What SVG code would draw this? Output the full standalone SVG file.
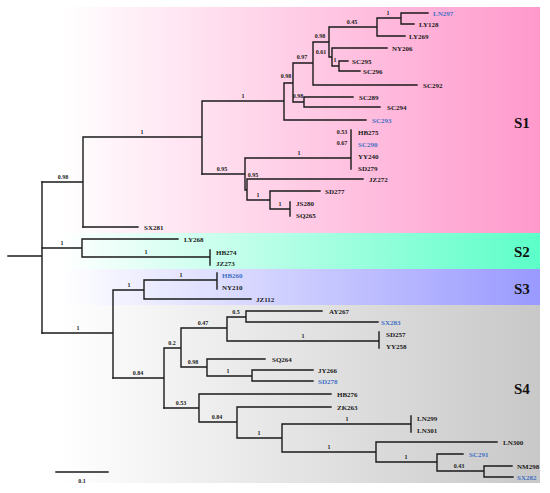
<svg xmlns="http://www.w3.org/2000/svg" width="550" height="493" viewBox="0 0 550 493">
<defs>
<linearGradient id="gPink" x1="0" y1="0" x2="1" y2="0"><stop offset="0" stop-color="#ffffff"/><stop offset="1" stop-color="#ff99cc"/></linearGradient>
<linearGradient id="gGreen" x1="0" y1="0" x2="1" y2="0"><stop offset="0" stop-color="#ffffff"/><stop offset="1" stop-color="#5cffc8"/></linearGradient>
<linearGradient id="gBlue" x1="0" y1="0" x2="1" y2="0"><stop offset="0" stop-color="#ffffff"/><stop offset="1" stop-color="#9999ff"/></linearGradient>
<linearGradient id="gGrey" x1="0" y1="0" x2="1" y2="0"><stop offset="0" stop-color="#ffffff"/><stop offset="1" stop-color="#c8c8c8"/></linearGradient>
</defs>
<style>
.tree{fill:none;stroke:#1a1a1a;stroke-width:1.4;stroke-linecap:square}
.lf{font-family:"Liberation Serif","Times New Roman",serif;font-weight:bold;font-size:7px;fill:#1a1a1a}
.bl{fill:#3f6fc4}
.sv{font-family:"Liberation Serif","Times New Roman",serif;font-weight:bold;font-size:6px;fill:#1a1a1a;text-anchor:middle}
.cl{font-family:"Liberation Serif","Times New Roman",serif;font-weight:bold;font-size:15px;fill:#111}
</style>
<rect width="550" height="493" fill="#ffffff"/>
<g id="clade-S1"><rect x="60" y="7" width="480" height="226" fill="url(#gPink)"/><text class="cl" x="514" y="128">S1</text></g>
<g id="clade-S2"><rect x="60" y="233" width="480" height="36" fill="url(#gGreen)"/><text class="cl" x="514" y="257">S2</text></g>
<g id="clade-S3"><rect x="60" y="269" width="480" height="36" fill="url(#gBlue)"/><text class="cl" x="514" y="294">S3</text></g>
<g id="clade-S4"><rect x="60" y="305" width="480" height="178" fill="url(#gGrey)"/><text class="cl" x="514" y="394">S4</text></g>

<g id="connectors" class="tree">
<path d="M8 256H42M42 182V333"/>
<path d="M42 182H83M83 137V227M83 137H202M202 101V174M202 101H284M284 83V120M284 83H293M293 63V102M293 63H313M313 42V85M313 42H329M329 27V57M329 27H377M377 18V36M377 18H401M401 13V24M401 13H428M401 24H414M377 36H405M329 57H332M332 48V66M332 48H387M332 66H339M339 61V71M339 61H348M339 71H360M313 85H417M293 102H304M304 97V107M304 97H353M304 107H380M284 120H366"/>
<path d="M202 174H245M245 158V190M245 158H351M351 130V169M245 190H247M247 179V200M247 179H363M247 200H270M270 191V209M270 191H320M270 209H290M290 202V216M83 227H138"/>
<path d="M42 248H82M82 239V257M82 239H178M82 257H210M210 250V265"/>
<path d="M42 333H113M113 290V378M113 290H144M144 280V299M144 280H217M217 273V289M144 299H251"/>
<path d="M113 378H164M164 348V408M164 348H181M181 328V367M181 328H227M227 317V341M227 317H246M246 311V322M246 311H322M246 322H378M227 341H379M379 332V348M181 367H207M207 359V376M207 359H265M207 376H252M252 370V381M252 370H313M252 381H313"/>
<path d="M164 408H199M199 394V422M199 394H331M199 422H237M237 407V438M237 407H331M237 438H282M282 424V452M282 424H411M411 416V432M282 452H376M376 442V462M376 442H497M376 462H437M437 454V471M437 454H463M437 471H484M484 466V477M484 466H512M484 477H513"/>
<path d="M56 472H108"/>
</g>

<g id="support-values">
<text class="sv" x="63" y="179">0.98</text>
<text class="sv" x="142" y="134">1</text>
<text class="sv" x="243" y="98">1</text>
<text class="sv" x="222" y="171">0.95</text>
<text class="sv" x="253" y="177">0.95</text>
<text class="sv" x="299" y="155">1</text>
<text class="sv" x="342" y="134">0.53</text>
<text class="sv" x="342" y="145">0.67</text>
<text class="sv" x="258" y="197">1</text>
<text class="sv" x="280" y="206">1</text>
<text class="sv" x="286" y="78">0.98</text>
<text class="sv" x="302" y="59">0.97</text>
<text class="sv" x="320" y="38">0.98</text>
<text class="sv" x="352" y="24">0.45</text>
<text class="sv" x="388" y="15">1</text>
<text class="sv" x="321" y="54">0.61</text>
<text class="sv" x="335" y="62">1</text>
<text class="sv" x="298" y="98">0.98</text>
<text class="sv" x="62" y="245">1</text>
<text class="sv" x="146" y="254">1</text>
<text class="sv" x="78" y="330">1</text>
<text class="sv" x="129" y="287">1</text>
<text class="sv" x="181" y="277">1</text>
<text class="sv" x="138" y="375">0.84</text>
<text class="sv" x="172" y="345">0.2</text>
<text class="sv" x="203" y="325">0.47</text>
<text class="sv" x="236" y="314">0.5</text>
<text class="sv" x="303" y="338">1</text>
<text class="sv" x="193" y="364">0.98</text>
<text class="sv" x="228" y="373">1</text>
<text class="sv" x="181" y="405">0.53</text>
<text class="sv" x="217" y="419">0.84</text>
<text class="sv" x="259" y="435">1</text>
<text class="sv" x="347" y="421">1</text>
<text class="sv" x="329" y="449">1</text>
<text class="sv" x="406" y="459">1</text>
<text class="sv" x="459" y="468">0.43</text>
</g>

<g id="LN297"><text class="lf bl" x="433" y="15.5">LN297</text></g>
<g id="LY128"><text class="lf" x="419" y="26.5">LY128</text></g>
<g id="LY269"><text class="lf" x="409" y="38.5">LY269</text></g>
<g id="NY206"><text class="lf" x="392" y="50.5">NY206</text></g>
<g id="SC295"><text class="lf" x="352" y="63.5">SC295</text></g>
<g id="SC296"><text class="lf" x="363" y="73.5">SC296</text></g>
<g id="SC292"><text class="lf" x="423" y="87.5">SC292</text></g>
<g id="SC289"><text class="lf" x="359" y="99.5">SC289</text></g>
<g id="SC294"><text class="lf" x="387" y="109.5">SC294</text></g>
<g id="SC293"><text class="lf bl" x="372" y="122.5">SC293</text></g>
<g id="HB275"><text class="lf" x="358" y="134.5">HB275</text></g>
<g id="SC290"><text class="lf bl" x="358" y="146.5">SC290</text></g>
<g id="YY240"><text class="lf" x="358" y="158.5">YY240</text></g>
<g id="SD279"><text class="lf" x="358" y="170.5">SD279</text></g>
<g id="JZ272"><text class="lf" x="369" y="181.5">JZ272</text></g>
<g id="SD277"><text class="lf" x="325" y="193.5">SD277</text></g>
<g id="JS280"><text class="lf" x="296" y="205.5">JS280</text></g>
<g id="SQ265"><text class="lf" x="296" y="217.5">SQ265</text></g>
<g id="SX281"><text class="lf" x="144" y="229.5">SX281</text></g>
<g id="LY268"><text class="lf" x="184" y="241.5">LY268</text></g>
<g id="HB274"><text class="lf" x="216" y="254.5">HB274</text></g>
<g id="JZ273"><text class="lf" x="216" y="265.5">JZ273</text></g>
<g id="HB260"><text class="lf bl" x="222" y="277.5">HB260</text></g>
<g id="NY210"><text class="lf" x="222" y="289.5">NY210</text></g>
<g id="JZ112"><text class="lf" x="256" y="301.5">JZ112</text></g>
<g id="AY267"><text class="lf" x="329" y="313.5">AY267</text></g>
<g id="SX283"><text class="lf bl" x="381" y="324.5">SX283</text></g>
<g id="SD257"><text class="lf" x="386" y="336.5">SD257</text></g>
<g id="YY258"><text class="lf" x="386" y="348.5">YY258</text></g>
<g id="SQ264"><text class="lf" x="272" y="361.5">SQ264</text></g>
<g id="JY266"><text class="lf" x="318" y="372.5">JY266</text></g>
<g id="SD278"><text class="lf bl" x="318" y="383.5">SD278</text></g>
<g id="HB276"><text class="lf" x="337" y="396.5">HB276</text></g>
<g id="ZK263"><text class="lf" x="337" y="409.5">ZK263</text></g>
<g id="LN299"><text class="lf" x="417" y="420.5">LN299</text></g>
<g id="LN301"><text class="lf" x="417" y="432.5">LN301</text></g>
<g id="LN300"><text class="lf" x="503" y="444.5">LN300</text></g>
<g id="SC291"><text class="lf bl" x="469" y="456.5">SC291</text></g>
<g id="NM298"><text class="lf" x="517" y="468.5">NM298</text></g>
<g id="SX282"><text class="lf bl" x="517" y="479.5">SX282</text></g>
<g id="scale-label"><text class="sv" x="82" y="483">0.1</text></g>
</svg>
